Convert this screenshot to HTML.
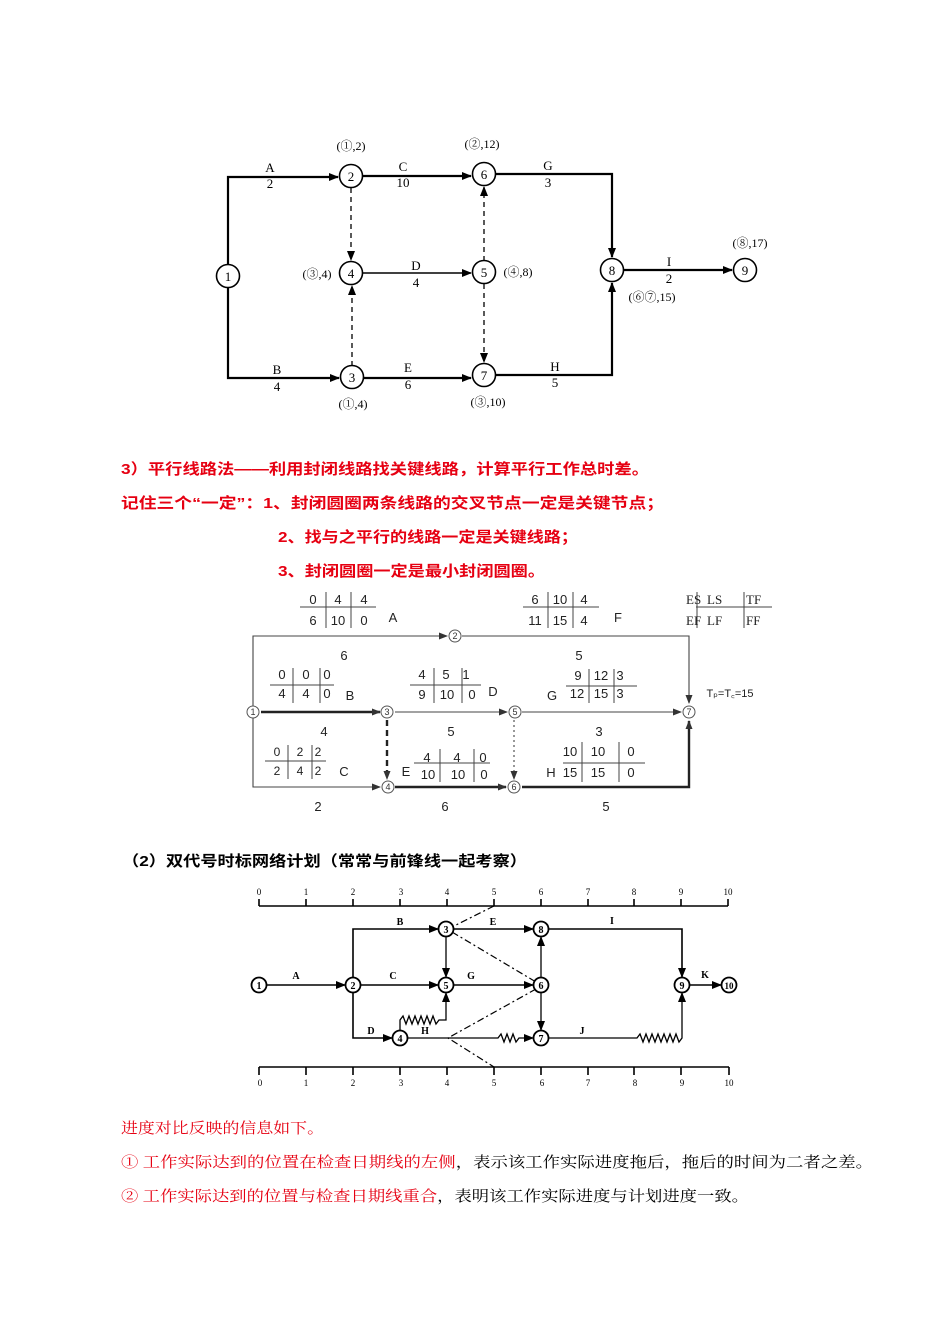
<!DOCTYPE html>
<html><head><meta charset="utf-8"><style>
html,body{margin:0;padding:0;background:#fff}
svg{display:block}
text{font-family:"Liberation Serif","Noto Serif CJK SC",serif}
.cn text, text.cn{font-family:"Liberation Sans","Noto Sans CJK SC",sans-serif}
.s text, text.s{font-family:"Liberation Sans","Noto Sans CJK SC",sans-serif}
</style></head><body>
<svg width="950" height="1344" viewBox="0 0 950 1344" xmlns="http://www.w3.org/2000/svg">
<defs>
<marker id="ar" markerWidth="10" markerHeight="8" refX="9" refY="4" orient="auto" markerUnits="userSpaceOnUse"><path d="M0,0 L10,4 L0,8 z" fill="#000"/></marker>
<marker id="ag" markerWidth="9" markerHeight="7" refX="8" refY="3.5" orient="auto" markerUnits="userSpaceOnUse"><path d="M0,0 L9,3.5 L0,7 z" fill="#333"/></marker>
</defs>

<!-- Diagram 1 -->
<g stroke="#000" fill="none" stroke-width="2.2">
<path d="M228,265 V177 H338" marker-end="url(#ar)"/>
<path d="M228,287 V378 H339" marker-end="url(#ar)"/>
<path d="M362,176 H471" marker-end="url(#ar)"/>
<path d="M495,174 H612 V257" marker-end="url(#ar)"/>
<path d="M496,375 H612 V283" marker-end="url(#ar)"/>
<path d="M623,270 H732" marker-end="url(#ar)"/>
<path d="M363,378 H471" marker-end="url(#ar)"/>
<path d="M362,273 H471" stroke-width="1.6" marker-end="url(#ar)"/>
</g>
<g stroke="#000" fill="none" stroke-width="1.3" stroke-dasharray="5,4">
<path d="M351,188 V260" marker-end="url(#ar)"/>
<path d="M352,366 V286" marker-end="url(#ar)"/>
<path d="M484,261 V187" marker-end="url(#ar)"/>
<path d="M484,284 V362" marker-end="url(#ar)"/>
</g>
<g stroke="#000" fill="#fff" stroke-width="1.6">
<circle cx="228" cy="276" r="11.5"/><circle cx="351" cy="176" r="11.5"/><circle cx="484" cy="174" r="11.5"/>
<circle cx="351" cy="273" r="11.5"/><circle cx="484" cy="272" r="11.5"/><circle cx="352" cy="377" r="11.5"/>
<circle cx="484" cy="375" r="11.5"/><circle cx="612" cy="270" r="11.5"/><circle cx="745" cy="270" r="11.5"/>
</g>
<g font-size="13" text-anchor="middle" fill="#000">
<text x="228" y="281">1</text><text x="351" y="181">2</text><text x="484" y="179">6</text>
<text x="351" y="278">4</text><text x="484" y="277">5</text><text x="352" y="382">3</text>
<text x="484" y="380">7</text><text x="612" y="275">8</text><text x="745" y="275">9</text>
<text x="270" y="172">A</text><text x="270" y="188">2</text>
<text x="403" y="171">C</text><text x="403" y="187">10</text>
<text x="548" y="170">G</text><text x="548" y="187">3</text>
<text x="416" y="270">D</text><text x="416" y="287">4</text>
<text x="277" y="374">B</text><text x="277" y="391">4</text>
<text x="408" y="372">E</text><text x="408" y="389">6</text>
<text x="555" y="371">H</text><text x="555" y="387">5</text>
<text x="669" y="266">I</text><text x="669" y="283">2</text>
<text x="351" y="150" font-size="12">(①,2)</text>
<text x="482" y="148" font-size="12">(②,12)</text>
<text x="317" y="278" font-size="12">(③,4)</text>
<text x="518" y="276" font-size="12">(④,8)</text>
<text x="353" y="408" font-size="12">(①,4)</text>
<text x="488" y="406" font-size="12">(③,10)</text>
<text x="750" y="247" font-size="12">(⑧,17)</text>
<text x="652" y="301" font-size="12">(⑥⑦,15)</text>
</g>

<!-- Red text -->
<g class="cn" fill="#e60012" font-weight="bold" font-size="15">
<text x="121" y="474" textLength="528" lengthAdjust="spacingAndGlyphs">3）平行线路法——利用封闭线路找关键线路，计算平行工作总时差。</text>
<text x="121" y="508" textLength="543" lengthAdjust="spacingAndGlyphs">记住三个“一定”：1、封闭圆圈两条线路的交叉节点一定是关键节点；</text>
<text x="278" y="542" textLength="300" lengthAdjust="spacingAndGlyphs">2、找与之平行的线路一定是关键线路；</text>
<text x="278" y="576" textLength="267" lengthAdjust="spacingAndGlyphs">3、封闭圆圈一定是最小封闭圆圈。</text>
</g>

<!-- Diagram 2 -->
<g stroke="#444" fill="none" stroke-width="1.1">
<path d="M253,706 V636 H447" marker-end="url(#ag)"/>
<path d="M462,636 H689 V703" marker-end="url(#ag)"/>
<path d="M253,718 V787 H380" marker-end="url(#ag)"/>
<path d="M395,712 H507" marker-end="url(#ag)"/>
<path d="M522,712 H681" marker-end="url(#ag)"/>
<path d="M514,720 V779" stroke-dasharray="2,3" marker-end="url(#ag)"/>
</g>
<g stroke="#222" fill="none" stroke-width="2.4">
<path d="M261,712 H380" marker-end="url(#ag)"/>
<path d="M395,787 H506" marker-end="url(#ag)"/>
<path d="M522,787 H689 V721" marker-end="url(#ag)"/>
<path d="M387,720 V779" stroke-dasharray="6,4" marker-end="url(#ag)"/>
</g>
<g stroke="#555" fill="#fff" stroke-width="1">
<circle cx="253" cy="712" r="6"/><circle cx="455" cy="636" r="6"/><circle cx="387" cy="712" r="6"/>
<circle cx="515" cy="712" r="6"/><circle cx="689" cy="712" r="6"/><circle cx="388" cy="787" r="6"/><circle cx="514" cy="787" r="6"/>
</g>
<g font-size="9" text-anchor="middle" fill="#333" class="s">
<text x="253" y="715">1</text><text x="455" y="639">2</text><text x="387" y="715">3</text><text x="515" y="715">5</text>
<text x="689" y="715">7</text><text x="388" y="790">4</text><text x="514" y="790">6</text>
</g>
<g stroke="#444" stroke-width="1" fill="none">
<path d="M300,607 H376 M326,592 V628 M351,592 V628"/>
<path d="M523,607 H599 M548,592 V628 M573,592 V628"/>
<path d="M696,607 H772 M697,592 V628 M744,592 V628"/>
<path d="M270,685 H334 M293,668 V703 M320,668 V703"/>
<path d="M410,685 H481 M434,668 V703 M462,668 V703"/>
<path d="M566,686 H637 M589,669 V703 M614,669 V703"/>
<path d="M265,761 H326 M288,745 V779 M312,745 V779"/>
<path d="M414,763 H490 M440,749 V782 M474,749 V782"/>
<path d="M563,763 H645 M582,742 V782 M619,742 V782"/>
</g>
<g font-size="13" fill="#222" text-anchor="middle" class="s">
<text x="313" y="604">0</text><text x="338" y="604">4</text><text x="364" y="604">4</text>
<text x="313" y="625">6</text><text x="338" y="625">10</text><text x="364" y="625">0</text><text x="393" y="622">A</text>
<text x="535" y="604">6</text><text x="560" y="604">10</text><text x="584" y="604">4</text>
<text x="535" y="625">11</text><text x="560" y="625">15</text><text x="584" y="625">4</text><text x="618" y="622">F</text>
<text x="344" y="660">6</text><text x="579" y="660">5</text>
<text x="282" y="679">0</text><text x="306" y="679">0</text><text x="327" y="679">0</text>
<text x="282" y="698">4</text><text x="306" y="698">4</text><text x="327" y="698">0</text><text x="350" y="700">B</text>
<text x="422" y="679">4</text><text x="446" y="679">5</text><text x="466" y="679">1</text>
<text x="422" y="699">9</text><text x="447" y="699">10</text><text x="472" y="699">0</text><text x="493" y="696">D</text>
<text x="578" y="680">9</text><text x="601" y="680">12</text><text x="620" y="680">3</text>
<text x="577" y="698">12</text><text x="601" y="698">15</text><text x="620" y="698">3</text><text x="552" y="700">G</text>
<text x="324" y="736">4</text><text x="451" y="736">5</text><text x="599" y="736">3</text>
<text x="277" y="756" font-size="12">0</text><text x="300" y="756" font-size="12">2</text><text x="318" y="756" font-size="12">2</text>
<text x="277" y="775" font-size="12">2</text><text x="300" y="775" font-size="12">4</text><text x="318" y="775" font-size="12">2</text><text x="344" y="776">C</text>
<text x="427" y="762">4</text><text x="457" y="762">4</text><text x="483" y="762">0</text>
<text x="428" y="779">10</text><text x="458" y="779">10</text><text x="484" y="779">0</text><text x="406" y="776">E</text>
<text x="570" y="756">10</text><text x="598" y="756">10</text><text x="631" y="756">0</text>
<text x="570" y="777">15</text><text x="598" y="777">15</text><text x="631" y="777">0</text><text x="551" y="777">H</text>
<text x="318" y="811">2</text><text x="445" y="811">6</text><text x="606" y="811">5</text>
<text x="730" y="697" font-size="11">Tₚ=T꜀=15</text>
</g>
<g font-size="13" fill="#222">
<text x="686" y="604">ES</text><text x="707" y="604">LS</text><text x="746" y="604">TF</text>
<text x="686" y="625">EF</text><text x="707" y="625">LF</text><text x="746" y="625">FF</text>
</g>

<!-- Heading -->
<text class="cn" x="122" y="866" font-size="15" font-weight="bold" fill="#000" textLength="405" lengthAdjust="spacingAndGlyphs">（2）双代号时标网络计划（常常与前锋线一起考察）</text>

<!-- Diagram 3 -->
<g stroke="#000" stroke-width="1.6" fill="none">
<path d="M259,906 H728"/>
<path d="M259,1067 H729"/>
<path d="M259,899V906 M306,899V906 M353,899V906 M400,899V906 M447,899V906 M494,899V906 M541,899V906 M588,899V906 M634,899V906 M681,899V906 M728,899V906"/>
<path d="M259,1067V1075 M306,1067V1075 M353,1067V1075 M400,1067V1075 M447,1067V1075 M494,1067V1075 M541,1067V1075 M588,1067V1075 M634,1067V1075 M681,1067V1075 M729,1067V1075"/>
<path d="M266,985 H345" marker-end="url(#ar)"/>
<path d="M353,978 V929 H438" marker-end="url(#ar)"/>
<path d="M360,985 H438" marker-end="url(#ar)"/>
<path d="M353,992 V1038 H392" marker-end="url(#ar)"/>
<path d="M453,929 H533" marker-end="url(#ar)"/>
<path d="M548,929 H682 V977" marker-end="url(#ar)"/>
<path d="M453,985 H533" marker-end="url(#ar)"/>
<path d="M689,985 H721" marker-end="url(#ar)"/>
<path d="M446,936 V977" stroke-width="1.3" marker-end="url(#ar)"/>
<path d="M541,978 V937" stroke-width="1.3" marker-end="url(#ar)"/>
<path d="M541,992 V1030" stroke-width="1.3" marker-end="url(#ar)"/>
<path d="M407,1038 H498 l3,-4 l3,8 l3,-8 l3,8 l3,-8 l3,8 l3,-4 H533" stroke-width="1.3" marker-end="url(#ar)"/>
<path d="M548,1038 H637 l3,-4 l3,8 l3,-8 l3,8 l3,-8 l3,8 l3,-8 l3,8 l3,-8 l3,8 l3,-8 l3,8 l3,-8 l3,8 l3,-4 V993" stroke-width="1.3" marker-end="url(#ar)"/>
<path d="M400,1031 V1020 l3,-4 l3,8 l3,-8 l3,8 l3,-8 l3,8 l3,-8 l3,8 l3,-8 l3,8 l3,-8 l3,8 l3,-4 H446 V993" stroke-width="1.3" marker-end="url(#ar)"/>
</g>
<path d="M494,906 L452,927 M452,932 L536,982 M536,989 L448,1038 L494,1067" stroke="#000" stroke-width="1.2" fill="none" stroke-dasharray="7,3,2,3"/>
<g stroke="#000" fill="#fff" stroke-width="1.8">
<circle cx="259" cy="985" r="7.5"/><circle cx="353" cy="985" r="7.5"/><circle cx="446" cy="929" r="7.5"/>
<circle cx="541" cy="929" r="7.5"/><circle cx="446" cy="985" r="7.5"/><circle cx="541" cy="985" r="7.5"/>
<circle cx="682" cy="985" r="7.5"/><circle cx="729" cy="985" r="7.5"/><circle cx="400" cy="1038" r="7.5"/><circle cx="541" cy="1038" r="7.5"/>
</g>
<g font-size="10" font-weight="bold" text-anchor="middle" fill="#000">
<text x="259" y="989">1</text><text x="353" y="989">2</text><text x="446" y="933">3</text><text x="541" y="933">8</text>
<text x="446" y="989">5</text><text x="541" y="989">6</text><text x="682" y="989">9</text><text x="729" y="989" font-size="9">10</text>
<text x="400" y="1042">4</text><text x="541" y="1042">7</text>
<text x="296" y="979">A</text><text x="400" y="925">B</text><text x="393" y="979">C</text><text x="371" y="1034">D</text>
<text x="493" y="925">E</text><text x="471" y="979">G</text><text x="425" y="1034">H</text><text x="612" y="924">I</text>
<text x="582" y="1034">J</text><text x="705" y="978">K</text>
</g>
<g font-size="9" text-anchor="middle" fill="#000">
<text x="259" y="895">0</text><text x="306" y="895">1</text><text x="353" y="895">2</text><text x="401" y="895">3</text><text x="447" y="895">4</text><text x="494" y="895">5</text><text x="541" y="895">6</text><text x="588" y="895">7</text><text x="634" y="895">8</text><text x="681" y="895">9</text><text x="728" y="895">10</text>
<text x="260" y="1086">0</text><text x="306" y="1086">1</text><text x="353" y="1086">2</text><text x="401" y="1086">3</text><text x="447" y="1086">4</text><text x="494" y="1086">5</text><text x="542" y="1086">6</text><text x="588" y="1086">7</text><text x="635" y="1086">8</text><text x="682" y="1086">9</text><text x="729" y="1086">10</text>
</g>

<!-- Bottom text -->
<g font-size="15">
<text x="121" y="1133" fill="#e60012" textLength="203" lengthAdjust="spacingAndGlyphs">进度对比反映的信息如下。</text>
<text x="121" y="1167" textLength="752" lengthAdjust="spacingAndGlyphs"><tspan fill="#e60012">① 工作实际达到的位置在检查日期线的左侧</tspan><tspan fill="#000">，表示该工作实际进度拖后，拖后的时间为二者之差。</tspan></text>
<text x="121" y="1201" textLength="628" lengthAdjust="spacingAndGlyphs"><tspan fill="#e60012">② 工作实际达到的位置与检查日期线重合</tspan><tspan fill="#000">，表明该工作实际进度与计划进度一致。</tspan></text>
</g>
</svg>
</body></html>
